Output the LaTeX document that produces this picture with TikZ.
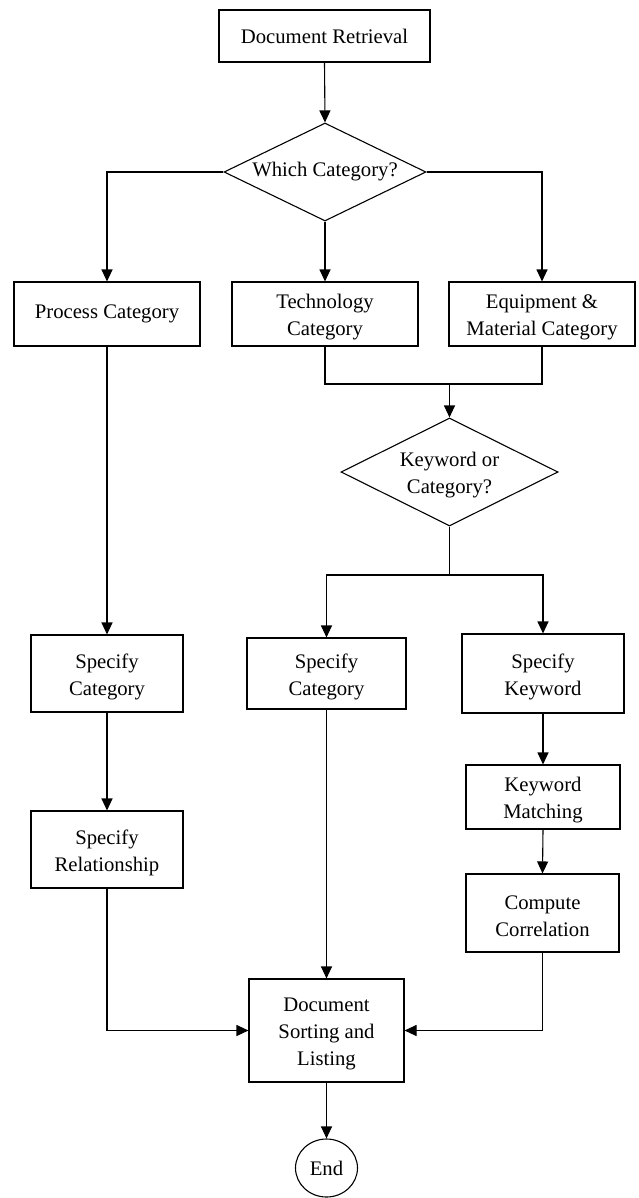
\documentclass[tikz,border=0pt]{standalone}
\usepackage{fontspec}
\setmainfont{Liberation Serif}
\usetikzlibrary{shapes.geometric,arrows.meta}
\newcommand\tstr{\rule{0pt}{21pt}}
\begin{document}
\begin{tikzpicture}[x=1pt,y=-1pt,
  every node/.style={font=\fontsize{20.7}{27}\selectfont, align=center, inner sep=0pt},
  box/.style={draw, line width=1.1pt, rectangle},
  dec/.style={draw, line width=1.1pt, diamond},
  conn/.style={line width=1.1pt},
  arr/.style={conn, -{Triangle[length=12pt,width=11pt]}}]
\useasboundingbox (0,0) rectangle (638,1198);
% nodes
\node[box, minimum width=211pt, minimum height=52pt] (dr) at (324.5,36) {Document Retrieval};
\node[dec, minimum width=202pt, minimum height=98pt, aspect=2.06] (q1) at (325,172) {Which Category?};
\node[box, minimum width=186pt, minimum height=64pt] (pc) at (107,314) {Process Category};
\node[box, minimum width=186pt, minimum height=64pt] (tc) at (325,314) {\tstr Technology\\Category};
\node[box, minimum width=186pt, minimum height=64pt] (ec) at (542,314) {\tstr Equipment \&\\Material Category};
\node[dec, minimum width=217pt, minimum height=108pt, aspect=2.0] (q2) at (449.5,472) {\tstr Keyword or\\Category?};
\node[box, minimum width=152pt, minimum height=77pt] (sc1) at (107,673.5) {\tstr Specify\\Category};
\node[box, minimum width=159pt, minimum height=71pt] (sc2) at (326.5,673.5) {\tstr Specify\\Category};
\node[box, minimum width=162pt, minimum height=79pt] (sk) at (543,673.5) {\tstr Specify\\Keyword};
\node[box, minimum width=154pt, minimum height=64pt] (km) at (543,797) {\tstr Keyword\\Matching};
\node[box, minimum width=152pt, minimum height=77pt] (sr) at (107,849.5) {\tstr Specify\\Relationship};
\node[box, minimum width=153pt, minimum height=78pt] (cc) at (542.5,913) {\tstr Compute\\Correlation};
\node[box, minimum width=155pt, minimum height=103pt] (ds) at (326.5,1030.5) {\tstr Document\\Sorting and\\Listing};
\node[draw, line width=1.1pt, ellipse, minimum width=62pt, minimum height=58pt] (end) at (326.5,1168) {End};
% junction coordinates
\coordinate (j1) at (449.5,384);
\coordinate (j2) at (449.5,575);
% connectors
\draw[arr] (dr.south) -- (q1.north);
\draw[arr] (q1.west) -| (pc.north);
\draw[arr] (q1.south) -- (tc.north);
\draw[arr] (q1.east) -| (ec.north);
\draw[conn] (tc.south) |- (j1) -| (ec.south);
\draw[arr] (j1) -- (q2.north);
\draw[conn] (q2.south) -- (j2);
\draw[arr] (j2) -| (sc2.north);
\draw[arr] (j2) -| (sk.north);
\draw[arr] (pc.south) -- (sc1.north);
\draw[arr] (sc1.south) -- (sr.north);
\draw[arr] (sk.south) -- (km.north);
\draw[arr] (km.south) -- (cc.north);
\draw[arr] (sc2.south) -- (ds.north);
\draw[arr] (sr.south) |- (ds.west);
\draw[arr] (cc.south) |- (ds.east);
\draw[arr] (ds.south) -- (end.north);
\end{tikzpicture}
\end{document}
